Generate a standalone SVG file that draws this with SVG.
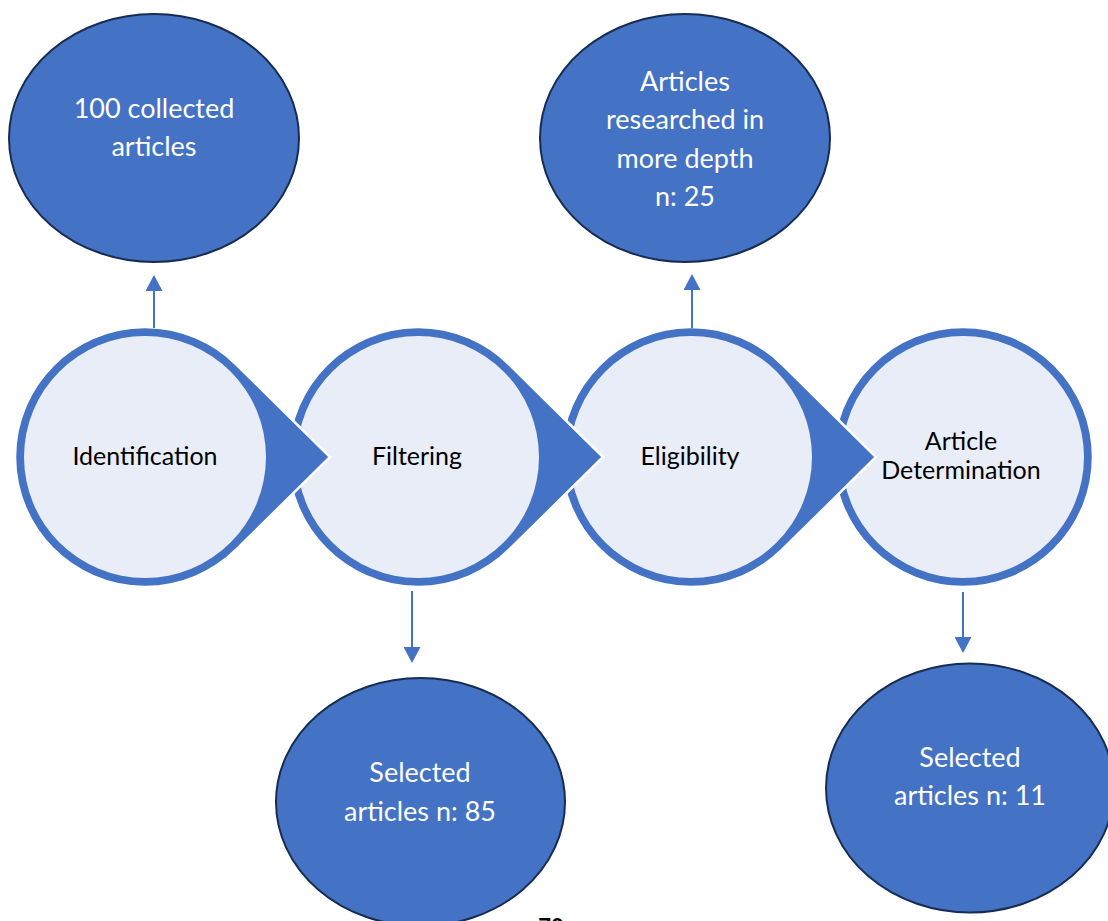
<svg xmlns="http://www.w3.org/2000/svg" width="1108" height="921" viewBox="0 0 1108 921">
<style>
.tear{fill:#4472C4;stroke:#FFFFFF;stroke-width:2.5}
.inner{fill:#E9EDF7;stroke:none}
.ell{fill:#4472C4;stroke:#172C51;stroke-width:2}
.ct{font-family:Lato,"Liberation Sans",sans-serif;font-size:25px;fill:#000000;text-anchor:middle}
.et{font-family:Lato,"Liberation Sans",sans-serif;font-size:27px;fill:#FFFFFF;text-anchor:middle}
.conn{stroke:#4472C4;stroke-width:2;fill:none}
</style>
<defs>
<marker id="arr" viewBox="0 0 16 17" refX="0" refY="8.5" markerWidth="16" markerHeight="17" orient="auto" markerUnits="userSpaceOnUse">
<path d="M0,0 L16,8.5 L0,17 Z" fill="#4472C4"/>
</marker>
</defs>
<rect width="1108" height="921" fill="#FFFFFF"/>

<g id="article-determination">
<circle cx="963" cy="457" r="130" class="tear"/>
<circle cx="963" cy="457" r="121" class="inner"/>
<text class="ct" x="961" y="450">Article</text>
<text class="ct" x="961" y="479">Determination</text>
</g>

<g id="eligibility">
<path class="tear" d="M876,457 L782.35,549.5 A130,130 0 1 1 782.35,364.5 Z"/>
<circle cx="691" cy="457" r="121" class="inner"/>
<text class="ct" x="690" y="465">Eligibility</text>
</g>

<g id="filtering">
<path class="tear" d="M603,457 L509.35,549.5 A130,130 0 1 1 509.35,364.5 Z"/>
<circle cx="418" cy="457" r="121" class="inner"/>
<text class="ct" x="417" y="465">Filtering</text>
</g>

<g id="identification">
<path class="tear" d="M330,457 L236.35,549.5 A130,130 0 1 1 236.35,364.5 Z"/>
<circle cx="145" cy="457" r="121" class="inner"/>
<text class="ct" x="145" y="465">Identification</text>
</g>

<g id="collected">
<ellipse class="ell" cx="154" cy="138" rx="145" ry="124"/>
<text class="et" x="154" y="118">100 collected</text>
<text class="et" x="154" y="156">articles</text>
</g>

<g id="researched">
<ellipse class="ell" cx="685" cy="138" rx="145" ry="124"/>
<text class="et" x="685" y="91">Articles</text>
<text class="et" x="685" y="129">researched in</text>
<text class="et" x="685" y="168">more depth</text>
<text class="et" x="685" y="206">n: 25</text>
</g>

<g id="selected-85">
<ellipse class="ell" cx="420.5" cy="802" rx="144.5" ry="124"/>
<text class="et" x="420" y="782">Selected</text>
<text class="et" x="420" y="821">articles n: 85</text>
</g>

<g id="selected-11">
<ellipse class="ell" cx="970" cy="788" rx="144" ry="124.5"/>
<text class="et" x="970" y="767">Selected</text>
<text class="et" x="970" y="805">articles n: 11</text>
</g>

<g id="connectors">
<line class="conn" x1="154" y1="328" x2="154" y2="291" marker-end="url(#arr)"/>
<line class="conn" x1="692" y1="328" x2="692" y2="290" marker-end="url(#arr)"/>
<line class="conn" x1="412" y1="591" x2="412" y2="647" marker-end="url(#arr)"/>
<line class="conn" x1="963" y1="592" x2="963" y2="637" marker-end="url(#arr)"/>
</g>

<text x="551" y="935" font-family="Lato,'Liberation Sans',sans-serif" font-size="22" font-weight="bold" fill="#000000" text-anchor="middle">70</text>
</svg>
